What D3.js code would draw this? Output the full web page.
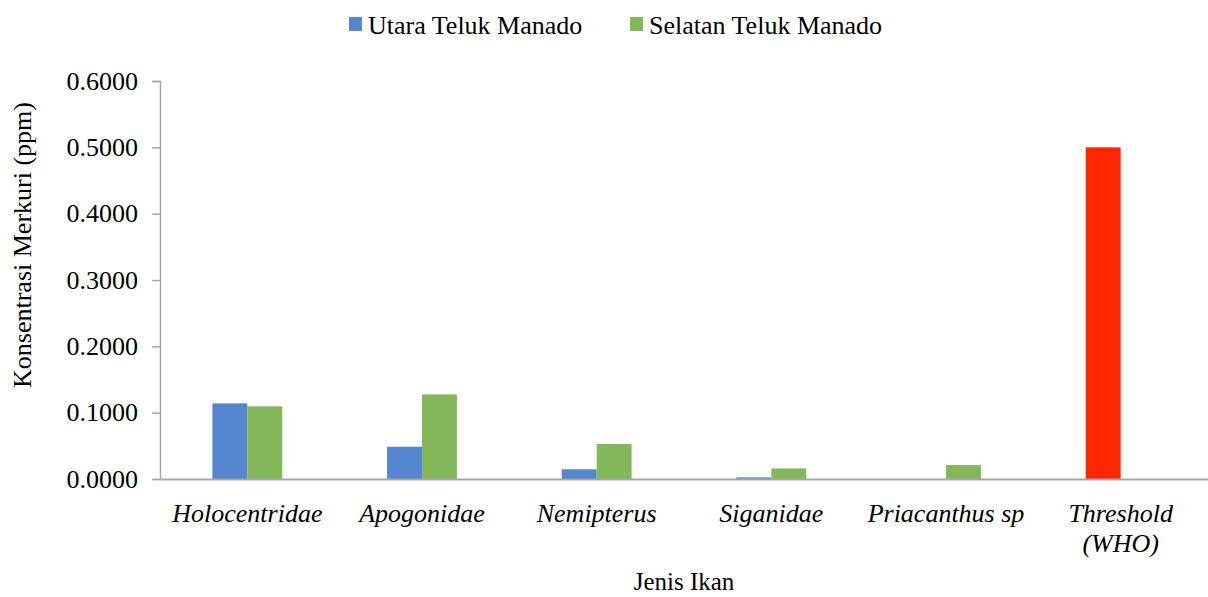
<!DOCTYPE html>
<html><head><meta charset="utf-8">
<script src="https://cdn.jsdelivr.net/npm/d3@7"></script>
<style>body{margin:0;background:#fff}svg{display:block}text{font-family:"Liberation Serif","Times New Roman",serif;fill:#000}</style>
</head><body><svg id="c" width="1208" height="597"></svg>
<script>
const categories = ["Holocentridae","Apogonidae","Nemipterus","Siganidae","Priacanthus sp","Threshold (WHO)"];
const seriesNames = ["Utara Teluk Manado","Selatan Teluk Manado"];
const utara = [0.1140,0.0486,0.0146,0.0025,0,0.5000];
const selatan = [0.1095,0.1275,0.0527,0.0160,0.0210,0];
const yTicks = [0,0.1,0.2,0.3,0.4,0.5,0.6];
const colors = ["#5587d1","#83b85a"];
const thresholdColor = "#ff2600";

const svg = d3.select("#c");
const m = {left:160,right:0,top:81,bottom:118};
const W = 1208, H = 597;
const x = d3.scaleBand().domain(categories).range([m.left, W-m.right]).padding(0);
const xs = d3.scaleBand().domain(seriesNames).range([x.bandwidth()*0.3, x.bandwidth()*0.7]).padding(0);
const y = d3.scaleLinear().domain([0,0.6]).range([H-m.bottom, m.top]);

// bars
const series = [utara, selatan];
series.forEach((vals,si)=>{
  svg.append("g").selectAll("rect").data(vals).join("rect")
    .attr("x",(d,i)=>x(categories[i])+xs(seriesNames[si]))
    .attr("y",d=>y(d))
    .attr("width",xs.bandwidth())
    .attr("height",d=>y(0)-y(d))
    .attr("fill",(d,i)=> (si===0 && i===categories.length-1) ? thresholdColor : colors[si]);
});

// y axis
const yAxis = svg.append("g").attr("transform",`translate(${m.left},0)`)
  .call(d3.axisLeft(y).tickValues(yTicks).tickFormat(d3.format(".4f")).tickSize(8).tickPadding(14));
yAxis.select(".domain").attr("stroke","#a6a6a6").attr("stroke-width",1.5);
yAxis.selectAll(".tick line").attr("stroke","#a6a6a6").attr("stroke-width",1.5);
yAxis.selectAll(".tick text").style("font-size","26px").attr("fill","#000");

// x axis line
const xAxis = svg.append("g").attr("transform",`translate(0,${y(0)})`)
  .call(d3.axisBottom(x).tickSize(0).tickFormat(""));
xAxis.select(".domain").attr("stroke","#a6a6a6").attr("stroke-width",2);

// category labels
const labG = svg.append("g");
categories.forEach(c=>{
  const t = labG.append("text").attr("x",x(c)+x.bandwidth()/2).attr("y",522)
    .attr("text-anchor","middle").style("font-size","26px").style("font-style","italic");
  if(c==="Threshold (WHO)"){
    t.append("tspan").attr("x",x(c)+x.bandwidth()/2).text("Threshold");
    t.append("tspan").attr("x",x(c)+x.bandwidth()/2).attr("dy",30).text("(WHO)");
  } else t.text(c);
});

// axis titles
svg.append("text").attr("x",684).attr("y",590).attr("text-anchor","middle").style("font-size","25px").text("Jenis Ikan");
svg.append("text").attr("transform","translate(31,245) rotate(-90)").attr("text-anchor","middle").style("font-size","26px").text("Konsentrasi Merkuri (ppm)");

// legend
const legX = [349,630];
seriesNames.forEach((s,i)=>{
  svg.append("rect").attr("x",legX[i]).attr("y",17).attr("width",13).attr("height",14).attr("fill",colors[i]);
  svg.append("text").attr("x",legX[i]+19).attr("y",34).style("font-size","26px").text(s);
});
</script></body></html>
